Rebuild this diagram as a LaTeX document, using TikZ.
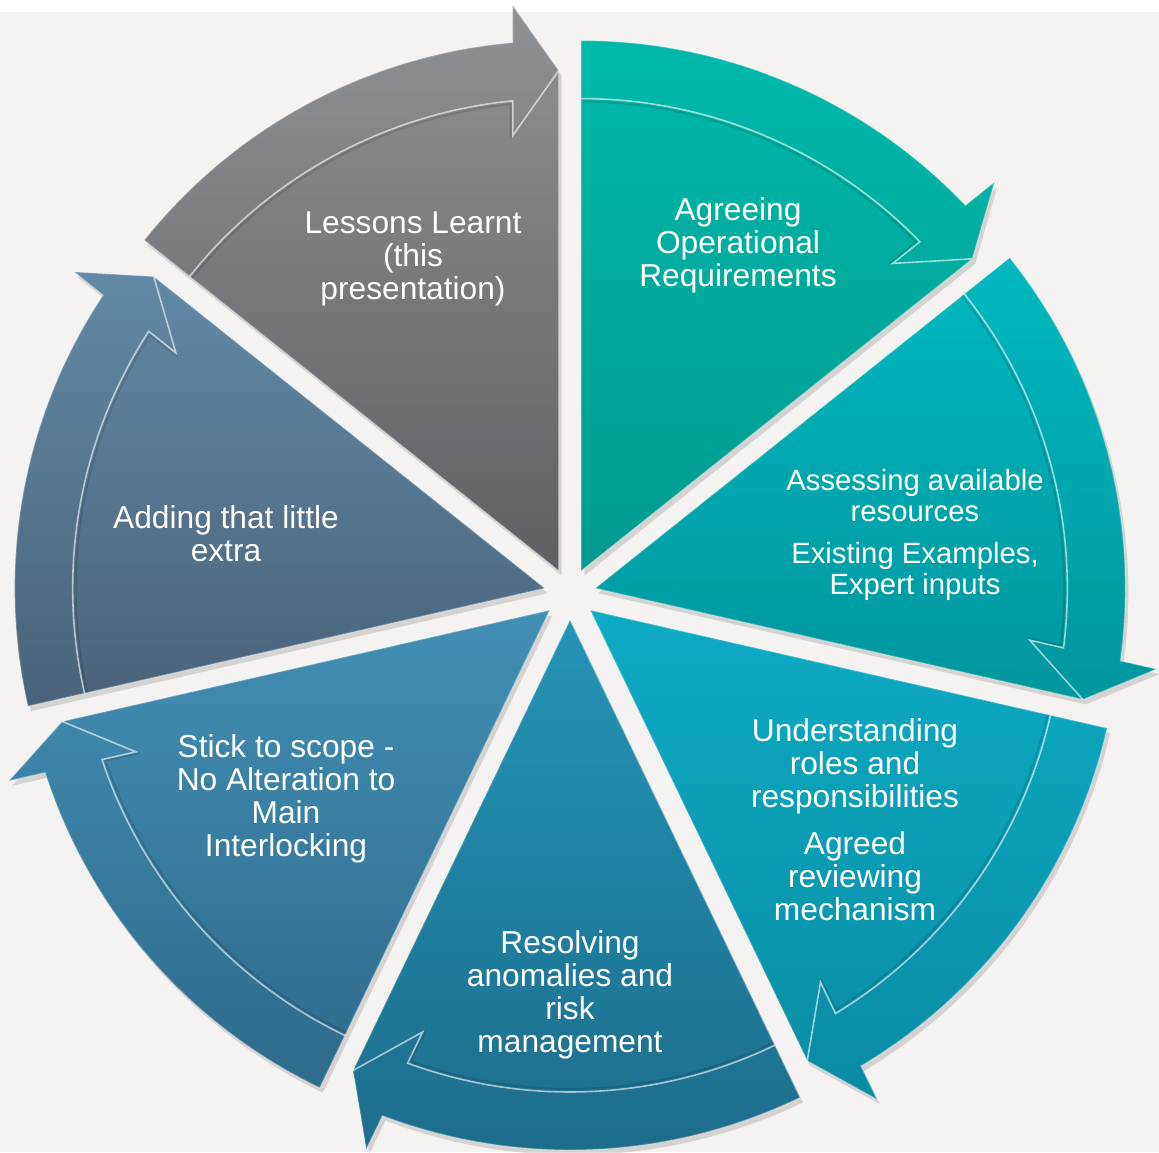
\documentclass[tikz,border=0pt]{standalone}
\usepackage{fontspec}
\setmainfont{Liberation Sans}
\usetikzlibrary{calc}
\definecolor{bg}{HTML}{F4F3F1}
\definecolor{agT}{HTML}{00B9AB}
\definecolor{agB}{HTML}{009A8F}
\definecolor{asT}{HTML}{00B9BF}
\definecolor{asB}{HTML}{00969C}
\definecolor{unT}{HTML}{0DABC6}
\definecolor{unB}{HTML}{0A8BA2}
\definecolor{reT}{HTML}{2494B6}
\definecolor{reB}{HTML}{1C6C89}
\definecolor{stT}{HTML}{4190B4}
\definecolor{stB}{HTML}{2F6A8A}
\definecolor{adT}{HTML}{6189A6}
\definecolor{adB}{HTML}{49637B}
\definecolor{leT}{HTML}{8F9195}
\definecolor{leB}{HTML}{5F6064}
\tikzset{
  lbl/.style={text=white, align=center, inner sep=0pt,
    font=\fontsize{31.7}{33}\selectfont},
  lblsmall/.style={lbl, font=\fontsize{29.3}{31}\selectfont},
  segshadow/.style={fill=black, opacity=0.13},
  segdark/.style={draw=black, opacity=0.12, line width=2pt},
  seghighlight/.style={draw=white, opacity=0.6, line width=1.6pt},
  segrim/.style={draw=white, opacity=0.25, line width=1.4pt}
}
\newcommand\segoutline[1]{(#1) -- ($(#1)+(\ts:530)$) arc[start angle=\ts, end angle=\neo, radius=530]
  -- ($(#1)+(\te:565)+(\te+90:46)$) -- ($(#1)+(\te:500)$) -- cycle}
\begin{document}
\begin{tikzpicture}[x=1pt,y=1pt]
\useasboundingbox (0,0) rectangle (1159,-1152);
\fill[white] (0,0) rectangle (1159,-1152);
\fill[bg] (0,-12) rectangle (1159,-1152);
\foreach \i/\tc/\bc in {0/agT/agB,1/asT/asB,2/unT/unB,3/reT/reB,4/stT/stB,5/adT/adB,6/leT/leB}{
  \pgfmathsetmacro\ts{90-51.428571*\i}
  \pgfmathsetmacro\te{\ts-51.428571}
  \pgfmathsetmacro\bi{\ts-25.714286}
  \pgfmathsetmacro\neo{\te+4.98}
  \pgfmathsetmacro\nei{\te+5.59}
  \pgfmathsetmacro\ned{\te+5.85}
  \coordinate (W) at ($(570,-594)+(\bi:26)$);
  \coordinate (Ws) at ($(W)+(3,-5)$);
  \path[segshadow] \segoutline{Ws};
  \path[top color=\tc, bottom color=\bc] \segoutline{W};
  \path[segrim] \segoutline{W};
  \draw[segdark] ($(W)+(\ts:469)$) arc[start angle=\ts, end angle=\ned, radius=469]
    -- ($(W)+(\te:432)+(\te+90:48)$);
  \draw[seghighlight] ($(W)+(\ts:472)$) arc[start angle=\ts, end angle=\nei, radius=472]
    -- ($(W)+(\te:435)+(\te+90:46)$) -- ($(W)+(\te:500)$);
}
\node[lbl] (lessons) at (413,-259) {Lessons Learnt\\(this\\presentation)};
\node[lbl] (agreeing) at (738,-245) {Agreeing\\Operational\\Requirements};
\node[lblsmall] (assessing) at (915,-535) {Assessing available\\resources\\[11pt]Existing Examples,\\Expert inputs};
\node[lbl] (understanding) at (855,-820) {Understanding\\roles and\\responsibilities\\[14pt]Agreed\\reviewing\\mechanism};
\node[lbl] (resolving) at (570,-995) {Resolving\\anomalies and\\risk\\management};
\node[lbl] (stick) at (286,-799) {Stick to scope -\\No Alteration to\\Main\\Interlocking};
\node[lbl] (adding) at (226,-534) {Adding that little\\extra};
\end{tikzpicture}
\end{document}
